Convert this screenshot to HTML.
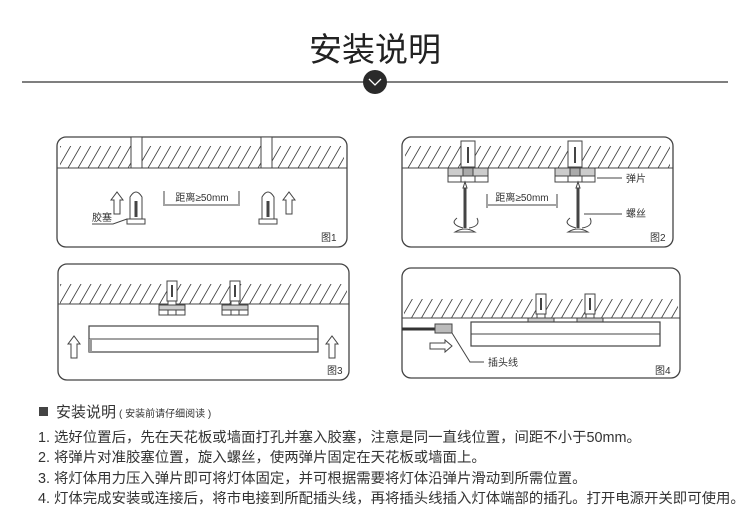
<!DOCTYPE html>
<html><head><meta charset="utf-8"><style>
html,body{margin:0;padding:0;background:#fff;}
svg{display:block;}
text{font-family:"Liberation Sans","Noto Sans CJK SC",sans-serif;}
</style></head><body>
<svg width="750" height="527" viewBox="0 0 750 527" xmlns="http://www.w3.org/2000/svg">
<defs>
<pattern id="h" width="10" height="10" patternUnits="userSpaceOnUse" patternTransform="skewX(-30)">
<line x1="5" y1="-1" x2="5" y2="11" stroke="#444" stroke-width="1"/>
</pattern>
<g id="anc">
<rect x="-5" y="-16" width="10" height="20" fill="#fff" stroke="#444" stroke-width="1"/>
<line x1="0" y1="-12" x2="0" y2="0" stroke="#444" stroke-width="2"/>
<rect x="-4" y="4" width="8" height="4" fill="#fff" stroke="#444"/>
<rect x="-13" y="8" width="26" height="5" fill="#ccc" stroke="#444"/>
<rect x="-13" y="13" width="26" height="5" fill="#fff" stroke="#444"/>
<line x1="-4" y1="13" x2="-4" y2="18" stroke="#444"/><line x1="4" y1="13" x2="4" y2="18" stroke="#444"/>
</g>
<g id="ancL">
<rect x="-7" y="-22" width="14" height="26" fill="#fff" stroke="#444" stroke-width="1"/>
<line x1="0" y1="-16" x2="0" y2="0" stroke="#444" stroke-width="2"/>
<rect x="-5" y="4" width="10" height="5" fill="#fff" stroke="#444"/>
<rect x="-20" y="5" width="40" height="8" fill="#ccc" stroke="#444"/>
<rect x="-5" y="5" width="10" height="8" fill="#aaa" stroke="#444"/>
<rect x="-20" y="13" width="40" height="6" fill="#fff" stroke="#444"/>
<line x1="-7" y1="13" x2="-7" y2="19" stroke="#444"/><line x1="7" y1="13" x2="7" y2="19" stroke="#444"/>
</g>
<g id="up"><path d="M-3,0 V-14 H-6 L0,-22 L6,-14 H3 V0 Z" fill="#fff" stroke="#444"/></g>
<g id="plug">
<path d="M-6,8 V-14 Q0,-24 6,-14 V8 Z" fill="#fff" stroke="#444"/>
<line x1="0" y1="-10" x2="0" y2="6" stroke="#444" stroke-width="3"/>
<rect x="-9" y="8" width="18" height="5" fill="#fff" stroke="#444"/>
</g>
<g id="screw">
<polygon points="-1.5,-20 1.5,-20 1.5,20 -1.5,20" fill="#444"/>
<polygon points="-2,-20 2,-20 0,-26" fill="#fff" stroke="#444"/>
<path d="M-10,24 Q0,18 10,24 Z" fill="#fff" stroke="#444"/>
<path d="M-8,10 Q-16,16 -2,20" fill="none" stroke="#444"/>
<path d="M4,20 Q16,18 12,10" fill="none" stroke="#444"/>
</g>
</defs>

<!-- Title -->
<text x="375" y="61" font-size="33" text-anchor="middle" fill="#222">安装说明</text>
<line x1="22" y1="82" x2="728" y2="82" stroke="#333" stroke-width="1.2"/>
<circle cx="375" cy="82" r="12" fill="#2a2a2a"/>
<polyline points="369,79 375,85 381,79" fill="none" stroke="#fff" stroke-width="1.3"/>

<!-- Panel 1 -->
<rect x="57" y="137" width="290" height="110" rx="9" fill="#fff" stroke="#444" stroke-width="1.3"/>
<rect x="60" y="146" width="284" height="22" fill="url(#h)"/>
<line x1="57" y1="168" x2="347" y2="168" stroke="#444"/>
<rect x="131" y="137" width="11" height="31" fill="#fff" stroke="#444"/>
<rect x="261" y="137" width="11" height="31" fill="#fff" stroke="#444"/>
<use href="#up" x="117" y="214"/>
<use href="#plug" x="136" y="211"/>
<use href="#plug" x="268" y="211"/>
<use href="#up" x="289" y="214"/>
<line x1="164" y1="191" x2="164" y2="206" stroke="#444"/>
<line x1="239" y1="191" x2="239" y2="206" stroke="#444"/>
<line x1="165" y1="205" x2="238" y2="205" stroke="#444"/>
<text x="202" y="201" font-size="10" text-anchor="middle" fill="#333">距离≥50mm</text>
<text x="92" y="221" font-size="10" fill="#333">胶塞</text>
<polyline points="92,224 113,224 127,219" fill="none" stroke="#444"/>
<text x="321" y="241" font-size="10" fill="#333">图1</text>

<!-- Panel 2 -->
<rect x="402" y="137" width="271" height="110" rx="9" fill="#fff" stroke="#444" stroke-width="1.3"/>
<rect x="405" y="146" width="265" height="22" fill="url(#h)"/>
<line x1="402" y1="168" x2="673" y2="168" stroke="#444"/>
<use href="#ancL" x="468" y="163"/>
<use href="#ancL" x="575" y="163"/>
<use href="#screw" x="465" y="208"/>
<use href="#screw" x="578" y="208"/>
<line x1="487" y1="194" x2="487" y2="208" stroke="#444"/>
<line x1="557" y1="194" x2="557" y2="208" stroke="#444"/>
<line x1="488" y1="205" x2="556" y2="205" stroke="#444"/>
<text x="522" y="201" font-size="10" text-anchor="middle" fill="#333">距离≥50mm</text>
<line x1="597" y1="178" x2="622" y2="178" stroke="#444"/>
<text x="626" y="182" font-size="10" fill="#333">弹片</text>
<line x1="584" y1="214" x2="622" y2="214" stroke="#444"/>
<text x="626" y="217" font-size="10" fill="#333">螺丝</text>
<text x="650" y="241" font-size="10" fill="#333">图2</text>

<!-- Panel 3 -->
<rect x="58" y="264" width="291" height="116" rx="9" fill="#fff" stroke="#444" stroke-width="1.3"/>
<rect x="60" y="284" width="287" height="20" fill="url(#h)"/>
<line x1="58" y1="304" x2="349" y2="304" stroke="#444"/>
<use href="#anc" x="172" y="297"/>
<use href="#anc" x="235" y="297"/>
<rect x="89" y="326" width="229" height="26" fill="#fff" stroke="#444" stroke-width="1.2"/>
<line x1="89" y1="339" x2="318" y2="339" stroke="#444"/>
<rect x="89" y="339" width="3" height="13" fill="#999"/>
<use href="#up" x="74" y="358"/>
<use href="#up" x="332" y="358"/>
<text x="327" y="374" font-size="10" fill="#333">图3</text>

<!-- Panel 4 -->
<rect x="402" y="268" width="278" height="110" rx="9" fill="#fff" stroke="#444" stroke-width="1.3"/>
<rect x="404" y="299" width="274" height="19" fill="url(#h)"/>
<line x1="402" y1="318" x2="680" y2="318" stroke="#444"/>
<use href="#anc" x="541" y="310"/>
<use href="#anc" x="590" y="310"/>
<rect x="471" y="322" width="189" height="24" fill="#fff" stroke="#444" stroke-width="1.2"/>
<line x1="471" y1="334" x2="660" y2="334" stroke="#444"/>
<line x1="402" y1="329" x2="436" y2="329" stroke="#333" stroke-width="3"/>
<rect x="435" y="324" width="17" height="9" fill="#bbb" stroke="#444"/>
<path d="M430,343 H445 V340 L452,346 L445,352 V349 H430 Z" fill="#fff" stroke="#444"/>
<polyline points="452,333 470,362 484,362" fill="none" stroke="#444"/>
<text x="488" y="366" font-size="10" fill="#333">插头线</text>
<text x="655" y="374" font-size="10" fill="#333">图4</text>

<!-- Text -->
<rect x="39" y="407" width="9" height="9" fill="#444"/>
<text x="56" y="417" font-size="15" fill="#333">安装说明<tspan font-size="10" dx="3">( 安装前请仔细阅读 )</tspan></text>
<g font-size="14.4" fill="#333">
<text x="38" y="442">1. 选好位置后，先在天花板或墙面打孔并塞入胶塞，注意是同一直线位置，间距不小于50mm。</text>
<text x="38" y="462">2. 将弹片对准胶塞位置，旋入螺丝，使两弹片固定在天花板或墙面上。</text>
<text x="38" y="483">3. 将灯体用力压入弹片即可将灯体固定，并可根据需要将灯体沿弹片滑动到所需位置。</text>
<text x="38" y="503">4. 灯体完成安装或连接后，将市电接到所配插头线，再将插头线插入灯体端部的插孔。打开电源开关即可使用。</text>
</g>
</svg>
</body></html>
